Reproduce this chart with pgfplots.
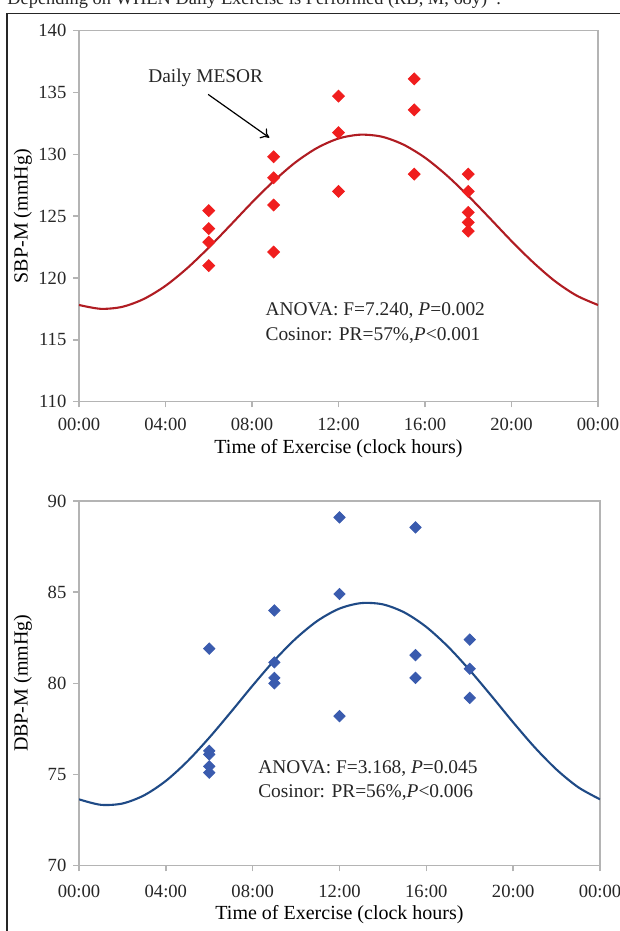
\documentclass[border=0pt]{standalone}
\usepackage{fontspec}
\setmainfont{Liberation Serif}
\usepackage{pgfplots}
\pgfplotsset{compat=1.18}
\usetikzlibrary{arrows.meta}
\definecolor{ptred}{HTML}{F01E1E}
\definecolor{curvered}{HTML}{B01C22}
\definecolor{ptblue}{HTML}{3A5BAE}
\definecolor{curveblue}{HTML}{1F4A86}
\definecolor{axgray}{HTML}{B4B4B4}
\definecolor{txt}{HTML}{262626}

\pgfplotstableread{
t v
6 125.45
6 124.0
6 122.9
6 121.0
9 129.8
9 128.1
9 125.9
9 122.1
12 134.7
12 131.75
12 127.0
15.5 136.1
15.5 133.6
15.5 128.4
18 128.4
18 127.0
18 125.3
18 124.5
18 123.8
}\sbppoints

\pgfplotstableread{
t v
0 117.82
1 117.51
2 117.67
3 118.31
4 119.37
5 120.79
6 122.46
7 124.27
8 126.11
9 127.83
10 129.34
11 130.51
12 131.28
13 131.59
14 131.43
15 130.79
16 129.73
17 128.31
18 126.64
19 124.83
20 122.99
21 121.27
22 119.76
23 118.59
24 117.82
}\sbpcurve

\pgfplotstableread{
t v
6 81.9
6 76.3
6 76.1
6 75.45
6 75.1
9 84.0
9 81.15
9 80.3
9 80.0
12 89.1
12 84.9
12 78.2
15.5 88.55
15.5 81.55
15.5 80.3
18 82.4
18 80.8
18 79.2
}\dbppoints

\pgfplotstableread{
t v
0 73.64
1 73.34
2 73.41
3 73.86
4 74.65
5 75.73
6 77.02
7 78.43
8 79.88
9 81.26
10 82.47
11 83.44
12 84.10
13 84.40
14 84.33
15 83.88
16 83.09
17 82.01
18 80.72
19 79.31
20 77.86
21 76.48
22 75.27
23 74.30
24 73.64
}\dbpcurve

\pgfplotsset{
  myax/.style={
    scale only axis, anchor=south west,
    xmin=0, xmax=24,
    xtick={0,4,8,12,16,20,24},
    xticklabels={00:00,04:00,08:00,12:00,16:00,20:00,00:00},
    axis line style={axgray, line width=0.7pt},
    every tick/.style={axgray, line width=0.7pt},
    tick align=outside, major tick length=2.8pt,
    xtick pos=bottom, ytick pos=left,
    /pgf/number format/assume math mode=true,
    tick label style={font=\fontsize{9.3}{11}\selectfont, text=txt},
    label style={font=\fontsize{9.7}{11}\selectfont, text=txt},
    every axis y label/.style={at={(axis description cs:-0.108,0.5)}, rotate=90, anchor=center},
  },
}

\begin{document}
\begin{tikzpicture}
\useasboundingbox (0,0) rectangle (310pt,465.5pt);
\clip (0,0) rectangle (310pt,465.5pt);
\draw[line width=0.6pt, black!85] (3.5pt,0pt) -- (3.5pt,458.75pt) -- (310pt,458.75pt);
\node[anchor=base west, inner sep=0pt, text=txt, font=\fontsize{9.2}{11}\selectfont] at (3.5pt,463pt) {Depending on WHEN Daily Exercise is Performed (RB, M, 68y)*.};

\begin{axis}[myax,
  at={(39.5pt,264.65pt)}, width=259.5pt, height=185.5pt,
  ymin=110, ymax=140, ytick={110,115,...,140},
  xlabel={Time of Exercise (clock hours)},
  ylabel={SBP-M (mmHg)},
  every axis x label/.style={at={(axis description cs:0.5,0)}, anchor=center, yshift=-23.2pt},
  xticklabel style={anchor=center, yshift=-8.8pt},
]
\addplot[curvered, line width=1.05pt, smooth, no marks] table[x=t,y=v] {\sbpcurve};
\addplot[only marks, mark=square*, mark size=2.1pt, ptred, mark options={rotate=45, draw=ptred, fill=ptred}] table[x=t,y=v] {\sbppoints};
\node[font=\fontsize{9.7}{11}\selectfont, text=txt] at (axis cs:5.86,136.18) {Daily MESOR};
\draw[-{To[length=4pt,width=6pt]}, line width=0.6pt, black] (axis cs:5.97,134.85) -- (axis cs:8.8,131.35);
\node[anchor=west, inner sep=0pt, align=left, font=\fontsize{9.7}{12.35}\selectfont, text=txt] at (axis cs:8.61,116.34) {ANOVA: F=7.240, \textit{P}=0.002\\Cosinor: PR=57\%,\textit{P}<0.001};
\end{axis}

\begin{axis}[myax,
  at={(39.5pt,32.65pt)}, width=260.5pt, height=182.35pt,
  ymin=70, ymax=90, ytick={70,75,...,90},
  xlabel={Time of Exercise (clock hours)},
  ylabel={DBP-M (mmHg)},
  every axis x label/.style={at={(axis description cs:0.5,0)}, anchor=center, yshift=-24.6pt},
  xticklabel style={anchor=center, yshift=-10.2pt},
]
\addplot[curveblue, line width=1.05pt, smooth, no marks] table[x=t,y=v] {\dbpcurve};
\addplot[only marks, mark=square*, mark size=2.0pt, ptblue, mark options={rotate=45, draw=ptblue, fill=ptblue}] table[x=t,y=v] {\dbppoints};
\node[anchor=west, inner sep=0pt, align=left, font=\fontsize{9.7}{12}\selectfont, text=txt] at (axis cs:8.24,74.68) {ANOVA: F=3.168, \textit{P}=0.045\\Cosinor: PR=56\%,\textit{P}<0.006};
\end{axis}
\end{tikzpicture}
\end{document}
